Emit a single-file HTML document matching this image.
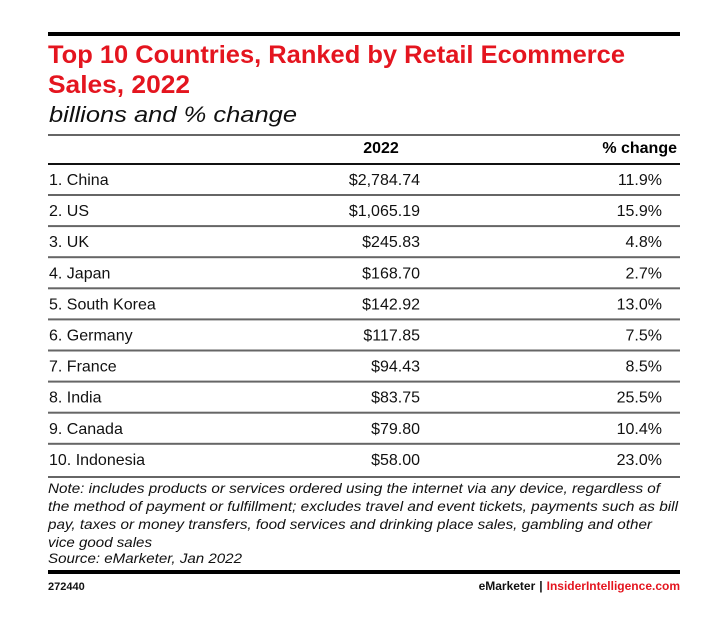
<!DOCTYPE html>
<html><head><meta charset="utf-8"><style>
html,body{margin:0;padding:0;background:#fff;}
svg{display:block;font-family:"Liberation Sans",sans-serif;}
</style></head><body>
<svg id="chart" width="725" height="628" viewBox="0 0 725 628">
<rect x="48" y="32" width="632" height="4" fill="#000"/>
<text x="48" y="63" font-size="25" font-weight="bold" fill="#e4151f" textLength="577" lengthAdjust="spacingAndGlyphs">Top 10 Countries, Ranked by Retail Ecommerce</text>
<text x="48" y="93" font-size="25" font-weight="bold" fill="#e4151f" textLength="142" lengthAdjust="spacingAndGlyphs">Sales, 2022</text>
<text x="49" y="122" font-size="22" font-style="italic" fill="#111" textLength="248" lengthAdjust="spacingAndGlyphs">billions and % change</text>
<rect x="48" y="134" width="632" height="2" fill="#666"/>
<text x="381" y="153" font-size="16" font-weight="bold" text-anchor="middle" fill="#000">2022</text>
<text x="677" y="153" font-size="16" font-weight="bold" text-anchor="end" fill="#000">% change</text>
<rect x="48" y="163" width="632" height="2" fill="#111"/>
<g id="rows"></g>
<text font-size="14" font-style="italic" fill="#111">
<tspan x="48" y="493" textLength="612" lengthAdjust="spacingAndGlyphs">Note: includes products or services ordered using the internet via any device, regardless of</tspan>
<tspan x="48" y="511" textLength="630" lengthAdjust="spacingAndGlyphs">the method of payment or fulfillment; excludes travel and event tickets, payments such as bill</tspan>
<tspan x="48" y="529" textLength="604" lengthAdjust="spacingAndGlyphs">pay, taxes or money transfers, food services and drinking place sales, gambling and other</tspan>
<tspan x="48" y="547" textLength="104" lengthAdjust="spacingAndGlyphs">vice good sales</tspan>
</text>
<text x="48" y="563" font-size="14" font-style="italic" fill="#111" textLength="194" lengthAdjust="spacingAndGlyphs">Source: eMarketer, Jan 2022</text>
<rect x="48" y="570" width="632" height="4" fill="#000"/>
<text x="48" y="590" font-size="11" font-weight="bold" fill="#111">272440</text>
<text x="680" y="590" font-size="12" font-weight="bold" text-anchor="end"><tspan fill="#111">eMarketer</tspan><tspan fill="#111" dx="4">|</tspan><tspan fill="#e4151f" dx="4">InsiderIntelligence.com</tspan></text>
</svg>
<script>
const countries = ["1. China","2. US","3. UK","4. Japan","5. South Korea","6. Germany","7. France","8. India","9. Canada","10. Indonesia"];
const sales = [2784.74,1065.19,245.83,168.70,142.92,117.85,94.43,83.75,79.80,58.00];
const changes = [11.9,15.9,4.8,2.7,13.0,7.5,8.5,25.5,10.4,23.0];
const NS="http://www.w3.org/2000/svg";
const g=document.getElementById('rows');
const rowY=i=>185+i*31.1;
function fmt(v){return '$'+v.toLocaleString('en-US',{minimumFractionDigits:2,maximumFractionDigits:2});}
function txt(x,y,s,anchor){const t=document.createElementNS(NS,'text');t.setAttribute('x',x);t.setAttribute('y',y);t.setAttribute('font-size','16');t.setAttribute('fill','#111');if(anchor)t.setAttribute('text-anchor',anchor);t.textContent=s;g.appendChild(t);return t;}
countries.forEach((c,i)=>{
  const y=rowY(i);
  const a=txt(49,y,c);
  
  
  const b=txt(420,y,fmt(sales[i]),'end');
  
  
  const d=txt(662,y,changes[i].toFixed(1)+'%','end');
  
  
  if(i<countries.length-1){
    const r=document.createElementNS(NS,'rect');
    r.setAttribute('x',48);r.setAttribute('y',(194+i*31.1).toFixed(1));r.setAttribute('width',632);r.setAttribute('height',2);r.setAttribute('fill','#666');
    
    
    g.appendChild(r);
  }
});
const last=document.createElementNS(NS,'rect');
last.setAttribute('x',48);last.setAttribute('y',476);last.setAttribute('width',632);last.setAttribute('height',2);last.setAttribute('fill','#666');


g.appendChild(last);
</script>
</body></html>
